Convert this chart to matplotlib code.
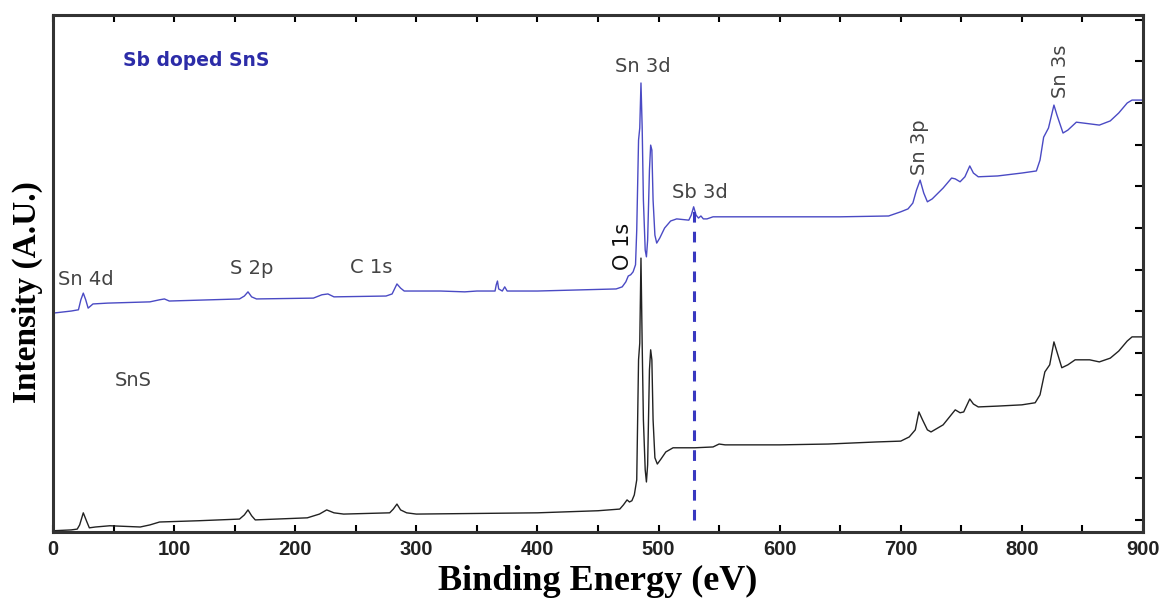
#!/usr/bin/env python3
"""XPS survey spectra of SnS and Sb doped SnS."""

import matplotlib
matplotlib.use("Agg")
import matplotlib.pyplot as plt
from matplotlib.ticker import MultipleLocator, NullFormatter

# Binding energy (eV) and intensity (A.U.) for the Sb doped SnS film
doped_be = [0, 15, 21, 23, 25, 27, 29, 33, 45, 80, 88, 92, 96, 154, 158, 161, 164, 168,
            215, 222, 227, 232, 275, 280, 284, 287, 290, 320, 340, 350, 365, 366, 367, 368,
            371, 373, 375, 400, 465, 470, 473, 475, 477, 479, 481, 482, 483.5, 484.5, 485.5,
            486.5, 487.5, 489, 490, 491, 492.5, 493.5, 494.5, 495.5, 497, 498.5, 501, 505,
            510, 515, 525, 527, 529, 531, 533, 535, 537, 540, 545, 600, 650, 690, 700, 706,
            710, 713, 716, 719, 722, 726, 735, 742, 745, 749, 753, 757, 760, 764, 780, 800,
            812, 815, 818, 822, 826.5, 829, 834, 838, 845, 856, 864, 873, 880, 887, 891, 900]
doped_int = [4.96, 5.01, 5.04, 5.28, 5.44, 5.28, 5.08, 5.18, 5.20, 5.23, 5.28, 5.30, 5.25,
             5.30, 5.37, 5.47, 5.35, 5.30, 5.32, 5.40, 5.42, 5.35, 5.37, 5.42, 5.66, 5.56,
             5.49, 5.49, 5.47, 5.49, 5.49, 5.64, 5.73, 5.54, 5.49, 5.59, 5.49, 5.49, 5.54,
             5.59, 5.71, 5.85, 5.88, 5.95, 6.12, 6.95, 9.11, 9.40, 10.48, 9.40, 7.67, 6.47,
             6.31, 6.71, 8.39, 8.99, 8.87, 7.67, 6.83, 6.64, 6.76, 7.00, 7.17, 7.22, 7.19,
             7.31, 7.51, 7.31, 7.24, 7.29, 7.22, 7.22, 7.27, 7.27, 7.27, 7.29, 7.39, 7.46,
             7.60, 7.91, 8.15, 7.84, 7.63, 7.70, 7.96, 8.20, 8.18, 8.11, 8.23, 8.49, 8.32,
             8.23, 8.25, 8.32, 8.37, 8.63, 9.18, 9.40, 9.95, 9.71, 9.28, 9.35, 9.54, 9.50,
             9.47, 9.57, 9.76, 10.00, 10.07, 10.07]

# Binding energy (eV) and intensity (A.U.) for the undoped SnS film
sns_be = [0, 15, 20, 22, 25, 28, 30, 35, 47, 72, 80, 88, 120, 154, 158, 161, 164, 167, 210,
          220, 226, 232, 240, 278, 281, 284, 287, 292, 300, 400, 450, 468, 471, 474, 476,
          478, 480, 482, 483.5, 484.5, 485.5, 486.5, 487.5, 489, 490, 491, 492.5, 493.5,
          494.5, 495.5, 497, 499, 502, 506, 512, 530, 545, 550, 555, 600, 640, 680, 700,
          707, 712, 715, 718, 722, 725, 735, 745, 749, 752, 757, 760, 764, 780, 800, 811,
          815, 819, 823, 826.5, 829, 833, 838, 844, 856, 864, 873, 880, 887, 891, 900]
sns_int = [-0.26, -0.24, -0.22, -0.12, 0.17, -0.05, -0.19, -0.17, -0.14, -0.17, -0.12,
           -0.05, -0.02, 0.02, 0.12, 0.24, 0.10, 0.00, 0.05, 0.14, 0.24, 0.17, 0.14, 0.17,
           0.26, 0.38, 0.24, 0.17, 0.14, 0.17, 0.22, 0.26, 0.36, 0.48, 0.43, 0.46, 0.60,
           0.96, 3.84, 4.24, 6.28, 4.20, 2.40, 1.20, 0.91, 1.32, 3.60, 4.08, 3.84, 2.40,
           1.49, 1.34, 1.46, 1.63, 1.73, 1.73, 1.75, 1.82, 1.80, 1.80, 1.82, 1.87, 1.89,
           1.99, 2.16, 2.59, 2.40, 2.16, 2.11, 2.28, 2.64, 2.57, 2.59, 2.90, 2.78, 2.71,
           2.73, 2.76, 2.81, 3.00, 3.55, 3.72, 4.27, 4.03, 3.65, 3.72, 3.84, 3.84, 3.79,
           3.88, 4.05, 4.29, 4.39, 4.39]

# Sb 3d marker
sb_line_be = 529.3
sb_line_span = (0.0, 7.48)

# Horizontal peak labels: (text, x, baseline y)
peak_labels = [
    ("Sn 4d", 4, 5.64),
    ("S 2p", 146, 5.90),
    ("C 1s", 245, 5.92),
    ("Sn 3d", 464, 10.74),
    ("Sb 3d", 511, 7.72),
]
# Vertical peak labels: (text, x of left edge, y of bottom edge)
side_labels = [
    ("Sn 3p", 708, 8.27),
    ("Sn 3s", 824, 10.12),
]

fig = plt.figure(figsize=(11.6, 6.01), dpi=100)
ax = fig.add_axes([0.0457, 0.1148, 0.9396, 0.8602])

ax.plot(doped_be, doped_int, color="#4a4ac4", lw=1.0)
ax.plot(sns_be, sns_int, color="#222222", lw=1.0)
ax.vlines(sb_line_be, *sb_line_span, colors="#3838c0", linestyles=(0, (3.5, 3.0)), lw=2.2)

label_font = dict(family="DejaVu Sans", fontsize=14, color="#444444")
for text, x, y in peak_labels:
    ax.text(x, y, text, ha="left", va="baseline", **label_font)
for text, x, y in side_labels:
    ax.text(x, y, text, rotation=90, ha="left", va="bottom", **label_font)
ax.text(462, 6.0, "O 1s", rotation=90, ha="left", va="bottom",
        family="DejaVu Sans", fontsize=15, color="#111111")

ax.text(58, 11.03, "Sb doped SnS", ha="left", va="center", family="DejaVu Sans",
        fontsize=13.5, fontweight="bold", color="#2c2ca8")
ax.text(51, 3.21, "SnS", ha="left", va="baseline", **label_font)

ax.set_xlim(0, 900)
ax.set_ylim(-0.29, 12.11)

ax.xaxis.set_major_locator(MultipleLocator(100))
ax.xaxis.set_minor_locator(MultipleLocator(50))
ax.yaxis.set_major_locator(MultipleLocator(1))
ax.yaxis.set_major_formatter(NullFormatter())
ax.tick_params(axis="x", which="both", direction="in", top=True, length=5, width=1.5,
               pad=6)
ax.tick_params(axis="y", which="both", direction="in", left=False, right=True, length=6,
               width=1.5)
for lbl in ax.get_xticklabels():
    lbl.set_fontfamily("Liberation Sans")
    lbl.set_fontweight("bold")
    lbl.set_fontsize(14.5)
    lbl.set_color("#222222")

for spine in ax.spines.values():
    spine.set_linewidth(2.2)
    spine.set_color("#333333")

ax.set_xlabel("Binding Energy (eV)", family="Liberation Serif", fontweight="bold",
              fontsize=26, labelpad=4)
ax.set_ylabel("Intensity (A.U.)", family="Liberation Serif", fontweight="bold",
              fontsize=24)
ax.yaxis.set_label_coords(-0.009, 0.464)

fig.savefig("out.png", dpi=100)
